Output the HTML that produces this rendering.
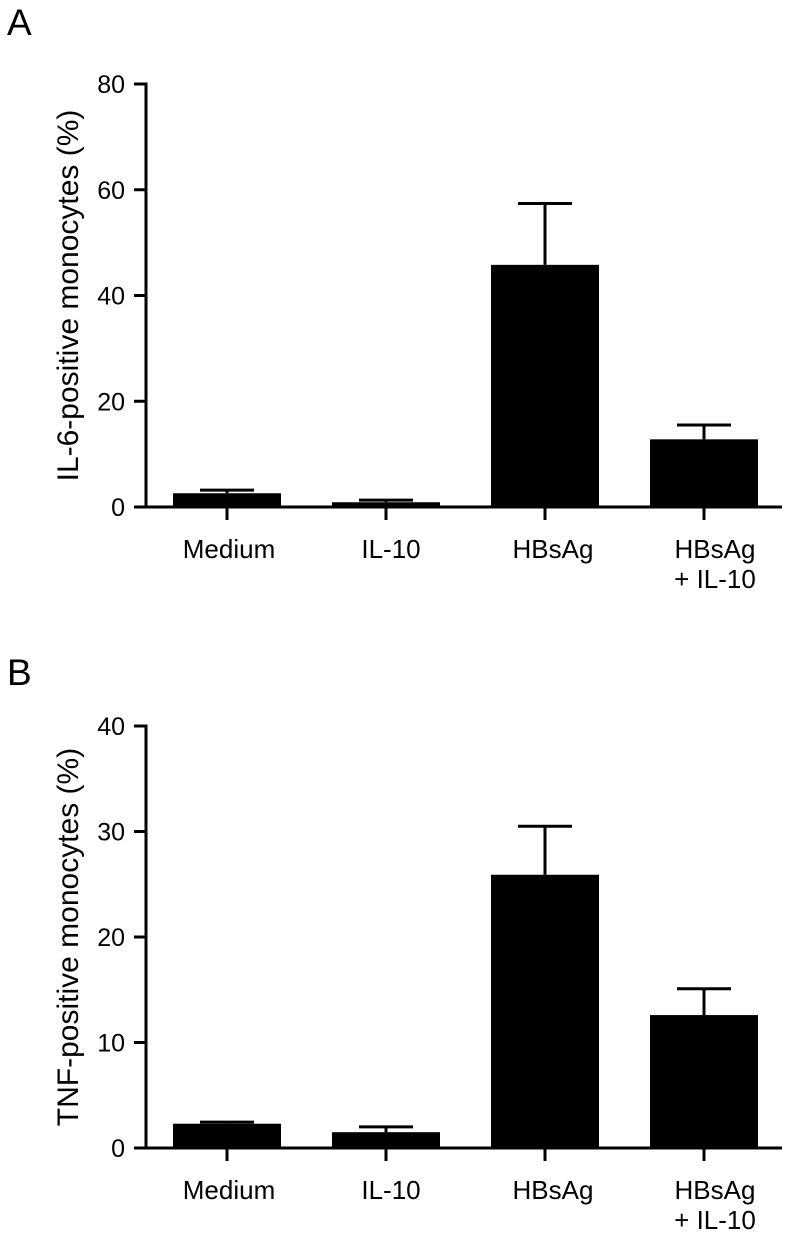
<!DOCTYPE html>
<html><head><meta charset="utf-8"><style>
html,body{margin:0;padding:0;background:#fff;}
svg{display:block;font-family:"Liberation Sans",Arial,sans-serif;}
</style></head><body>
<svg id="chart" width="792" height="1241" viewBox="0 0 792 1241" xmlns="http://www.w3.org/2000/svg">
<text x="7" y="35" font-size="37">A</text>
<text x="7" y="685" font-size="37">B</text>
<g id="pa"></g>
<g id="pb"></g>
</svg>
<script>
const categories = ["Medium", "IL-10", "HBsAg", "HBsAg|+ IL-10"];
const il6Values = [2.6, 0.9, 45.8, 12.8];
const il6ErrTop = [3.2, 1.3, 57.4, 15.5];
const il6Ticks = [0, 20, 40, 60, 80];
const tnfValues = [2.3, 1.5, 25.9, 12.6];
const tnfErrTop = [2.45, 2.0, 30.5, 15.1];
const tnfTicks = [0, 10, 20, 30, 40];

const NS = "http://www.w3.org/2000/svg";
function mk(parent, tag, attrs) {
  const e = document.createElementNS(NS, tag);
  for (const k in attrs) e.setAttribute(k, attrs[k]);
  parent.appendChild(e);
  return e;
}
function drawPanel(g, values, errs, ticks, y0, yTop, title, prefix) {
  const axisX = 146;
  const maxV = ticks[ticks.length - 1];
  const y = v => y0 - (v / maxV) * (y0 - yTop);
  const x = i => 227 + i * 159;
  const bw = 108;
  values.forEach((v, i) => {
    const r = mk(g, "rect", {x: x(i) - bw / 2, y: y(v), width: bw, height: y0 - y(v), fill: "#000"});
    
    
    const l = mk(g, "line", {x1: x(i), x2: x(i), y1: y(errs[i]), y2: y(v), stroke: "#000", "stroke-width": 3});
    
    
    const c = mk(g, "line", {x1: x(i) - 27, x2: x(i) + 27, y1: y(errs[i]), y2: y(errs[i]), stroke: "#000", "stroke-width": 3});
    
    
    const xt = mk(g, "line", {x1: x(i), x2: x(i), y1: y0, y2: y0 + 13, stroke: "#000", "stroke-width": 3});
    
    
    const parts = categories[i].split("|");
    parts.forEach((p, j) => {
      const t = mk(g, "text", {x: x(i) + 2 + i * 3, y: y0 + 51 + j * 30, "font-size": 26, "text-anchor": "middle"});
      t.textContent = p;
      
      
    });
  });
  const ya = mk(g, "line", {x1: axisX, x2: axisX, y1: yTop - 1.5, y2: y0 + 1.5, stroke: "#000", "stroke-width": 3});
  
  
  const xa = mk(g, "line", {x1: axisX, x2: 782, y1: y0, y2: y0, stroke: "#000", "stroke-width": 3});
  
  
  ticks.forEach(tv => {
    const tl = mk(g, "line", {x1: axisX - 12, x2: axisX, y1: y(tv), y2: y(tv), stroke: "#000", "stroke-width": 3});
    
    
    const tt = mk(g, "text", {x: 125, y: y(tv) + 9, "font-size": 25, "text-anchor": "end"});
    tt.textContent = tv;
    
    
  });
  const cy = (y0 + yTop) / 2;
  const ti = mk(g, "text", {x: 0, y: 0, "font-size": 30, "text-anchor": "middle", transform: "translate(78," + cy + ") rotate(-90)"});
  ti.textContent = title;
  
  
}
drawPanel(document.getElementById("pa"), il6Values, il6ErrTop, il6Ticks, 507, 84, "IL-6-positive monocytes (%)", "a");
drawPanel(document.getElementById("pb"), tnfValues, tnfErrTop, tnfTicks, 1148, 726, "TNF-positive monocytes (%)", "b");
</script>
</body></html>
